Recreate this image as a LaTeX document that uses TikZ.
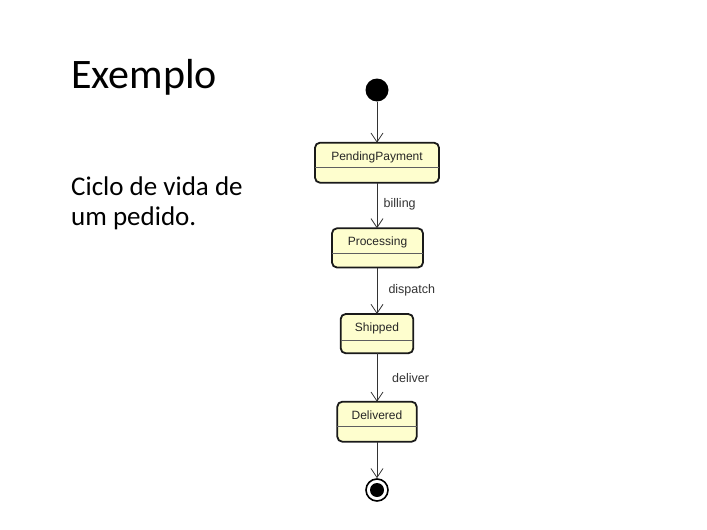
\documentclass[tikz,border=0pt]{standalone}
\usepackage{fontspec}
\setmainfont{Carlito}
\newfontfamily\umlfont{Liberation Sans}
\usetikzlibrary{arrows.meta}
\definecolor{stfill}{HTML}{FEFECE}
\definecolor{stline}{HTML}{1A1A1A}
\definecolor{edgecol}{HTML}{333333}
\tikzset{
  statebox/.style={draw=stline, fill=stfill, line width=1.8pt, rounded corners=5pt},
  divline/.style={draw=stline!70, line width=1pt},
  statename/.style={font=\umlfont\fontsize{12}{14}\selectfont, text=black!85, inner sep=0pt},
  trans/.style={draw=edgecol, line width=0.8pt, -{Straight Barb[length=9pt,width=12pt,line width=0.8pt]}},
  translabel/.style={font=\umlfont\fontsize{12.5}{14}\selectfont, text=black!80, inner sep=0pt, anchor=west},
  bodytext/.style={anchor=base west, inner sep=0pt, font=\fontsize{27}{30.7}\selectfont},
}
\begin{document}
\begin{tikzpicture}[x=1pt,y=-1pt]
\useasboundingbox (0,0) rectangle (707,530);
% texts
\node[anchor=base west, inner sep=0pt, font=\fontsize{42}{48}\selectfont] (title) at (71,88.3) {Exemplo};
\node[bodytext] (desc1) at (71,195) {Ciclo de vida de};
\node[bodytext] (desc2) at (71,225.7) {um pedido.};
% initial
\node[circle, fill=black, minimum size=23pt, inner sep=0pt] (init) at (377,90) {};
% states
\path[statebox] (315,142.7) rectangle (439,182.7);
\draw[divline] (315,167.7) -- (439,167.7);
\node[statename] (pp) at (377,157.5) {PendingPayment};
\coordinate (ppT) at (377,142.7); \coordinate (ppB) at (377,182.7);

\path[statebox] (332,228.3) rectangle (423,267.5);
\draw[divline] (332,253.3) -- (423,253.3);
\node[statename] (proc) at (377.5,242.5) {Processing};
\coordinate (procT) at (377,228.3); \coordinate (procB) at (377,267.5);

\path[statebox] (340.7,314) rectangle (413.3,353.3);
\draw[divline] (340.7,340) -- (413.3,340);
\node[statename] (ship) at (377,328.5) {Shipped};
\coordinate (shipT) at (377,314); \coordinate (shipB) at (377,353.3);

\path[statebox] (337.3,401.7) rectangle (416.7,441.7);
\draw[divline] (337.3,426.5) -- (416.7,426.5);
\node[statename] (deliv) at (377,415.5) {Delivered};
\coordinate (delT) at (377,401.7); \coordinate (delB) at (377,441.7);

% final
\node[circle, draw=black, line width=1.6pt, fill=white, minimum size=22pt, inner sep=0pt] (fin) at (377,490) {};
\node[circle, fill=black, minimum size=14pt, inner sep=0pt] (finin) at (377,490) {};

% transitions
\draw[trans] (init) -- (ppT);
\draw[trans] (ppB) -- (procT);
\draw[trans] (procB) -- (shipT);
\draw[trans] (shipB) -- (delT);
\draw[trans] (delB) -- (fin);

\node[translabel] (lb1) at (383.5,204) {billing};
\node[translabel] (lb2) at (388.3,290) {dispatch};
\node[translabel] (lb3) at (392,378) {deliver};
\end{tikzpicture}
\end{document}
